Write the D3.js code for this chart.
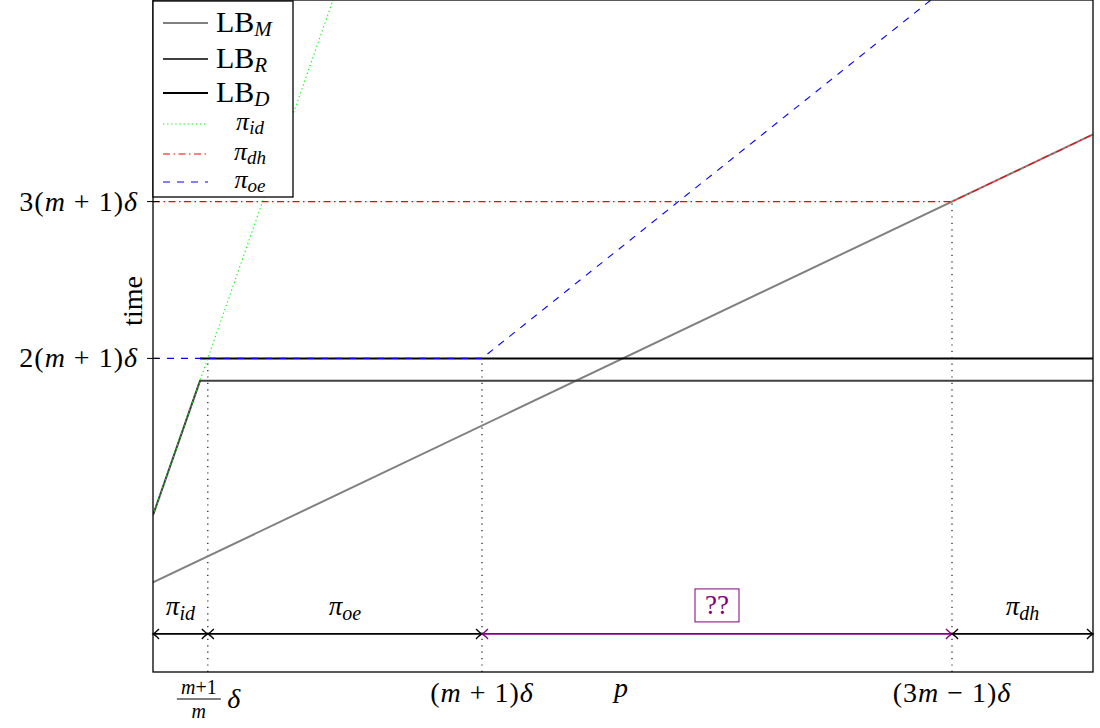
<!DOCTYPE html>
<html>
<head>
<meta charset="utf-8">
<script src="https://cdn.jsdelivr.net/npm/d3@7"></script>
<style>
  body { margin: 0; background: #fff; }
  text { font-family: "Liberation Serif", "DejaVu Serif", serif; fill: #000; }
  .it { font-style: italic; }
</style>
</head>
<body>
<script>
// Values (delta = 1, m = 6)
var lbM  = [[0, 4], [20, 24]];
var lbR  = [[0, 7], [1, 13], [20, 13]];
var lbD  = [[1, 14], [20, 14]];
var piId = [[0, 7], [3.83, 30]];
var piDh = [[0, 21], [17, 21], [20, 24]];
var piOe = [[0, 14], [7, 14], [16.55, 30]];

// Dotted guides: [p, top value]
var guides = [[7 / 6, 14], [7, 14], [17, 21]];

// Regime spans drawn just above the p axis
var spanFrom  = [0, 7 / 6, 7, 17];
var spanTo    = [7 / 6, 7, 17, 20];
var spanName  = ["id", "oe", "??", "dh"];
var spanLevel = 1.7;

var yTicks = [14, 21];
var yTickText = ["2(", "3("];

window.onload = drawChart();

function drawChart(){

    var width = 1100,
        height = 728;

    var svg = d3.select("body")
        .append("svg")
        .attr("width", width)
        .attr("height", height);

    // Plot frame
    var left = 153, right = 1093, top = 0, bottom = 672;

    var x = d3.scaleLinear().domain([0, 20]).range([left, right]);
    var y = d3.scaleLinear().domain([0, 30]).range([bottom, top]);

    svg.append("clipPath").attr("id", "plotClip")
        .append("rect")
        .attr("x", left).attr("y", top)
        .attr("width", right - left).attr("height", bottom - top);

    var line = d3.line()
        .x(function(d){ return x(d[0]); })
        .y(function(d){ return y(d[1]); });

    var plot = svg.append("g").attr("clip-path", "url(#plotClip)");

    // Dotted guides
    plot.selectAll(".guide")
        .data(guides)
        .enter()
        .append("line")
        .attr("class", "guide")
        .attr("x1", function(d){ return x(d[0]); })
        .attr("x2", function(d){ return x(d[0]); })
        .attr("y1", y(0))
        .attr("y2", function(d){ return y(d[1]); })
        .attr("stroke", "#000")
        .attr("stroke-width", 1.1)
        .attr("stroke-dasharray", "1.2,5.2");

    // Series, in the same order as the legend
    var series = [
        {data: lbM,  color: "#808080", width: 2,   dash: null},
        {data: lbR,  color: "#404040", width: 2,   dash: null},
        {data: lbD,  color: "#000000", width: 2,   dash: null},
        {data: piId, color: "#00ff00", width: 1.1, dash: "1.3,2.8"},
        {data: piDh, color: "#ff0000", width: 1.1, dash: "7,3.5,1.5,3.5"},
        {data: piOe, color: "#0000ff", width: 1.1, dash: "7,7"}
    ];

    plot.selectAll(".series")
        .data(series)
        .enter()
        .append("path")
        .attr("class", "series")
        .attr("d", function(d){ return line(d.data); })
        .attr("fill", "none")
        .attr("stroke", function(d){ return d.color; })
        .attr("stroke-width", function(d){ return d.width; })
        .attr("stroke-dasharray", function(d){ return d.dash; });

    // Arrow markers (open chevrons)
    var defs = svg.append("defs");
    ["#000000", "#800080"].forEach(function(c, i){
        defs.append("marker")
            .attr("id", "arr" + i)
            .attr("viewBox", "-10 -6 12 12")
            .attr("refX", 0).attr("refY", 0)
            .attr("markerWidth", 12).attr("markerHeight", 12)
            .attr("markerUnits", "userSpaceOnUse")
            .attr("orient", "auto-start-reverse")
            .append("path")
            .attr("d", "M-6,-5 Q-2,-1 0,0 Q-2,1 -6,5")
            .attr("fill", "none")
            .attr("stroke", c)
            .attr("stroke-width", 1.4);
    });

    var spans = svg.append("g");
    spanFrom.forEach(function(f, i){
        var isQ = spanName[i] === "??";
        var col = isQ ? "#800080" : "#000000";
        spans.append("line")
            .attr("x1", x(f)).attr("x2", x(spanTo[i]))
            .attr("y1", y(spanLevel)).attr("y2", y(spanLevel))
            .attr("stroke", col)
            .attr("stroke-width", 1.6)
            .attr("marker-start", "url(#arr" + (isQ ? 1 : 0) + ")")
            .attr("marker-end", "url(#arr" + (isQ ? 1 : 0) + ")");

        var cx = (x(f) + x(spanTo[i])) / 2;
        if (isQ) {
            spans.append("rect")
                .attr("x", cx - 22).attr("y", y(spanLevel) - 45)
                .attr("width", 44).attr("height", 33)
                .attr("fill", "#fff")
                .attr("stroke", col).attr("stroke-width", 1);
            spans.append("text")
                .attr("x", cx).attr("y", y(spanLevel) - 20)
                .attr("text-anchor", "middle")
                .attr("font-size", 27)
                .style("fill", col)
                .text("??");
        } else {
            var t = spans.append("text")
                .attr("x", cx).attr("y", y(spanLevel) - 19)
                .attr("text-anchor", "middle")
                .attr("font-size", 27);
            t.append("tspan").attr("class", "it").text("π");
            t.append("tspan").attr("class", "it")
                .attr("font-size", 20).attr("dy", 5)
                .text(spanName[i]);
        }
    });

    // Frame
    svg.append("rect")
        .attr("x", left).attr("y", top)
        .attr("width", right - left).attr("height", bottom - top)
        .attr("fill", "none")
        .attr("stroke", "#000")
        .attr("stroke-width", 1.3);

    // Y ticks
    svg.selectAll(".ytick")
        .data(yTicks)
        .enter()
        .append("line")
        .attr("x1", left - 6).attr("x2", left + 6)
        .attr("y1", function(d){ return y(d); })
        .attr("y2", function(d){ return y(d); })
        .attr("stroke", "#000").attr("stroke-width", 1);

    yTicks.forEach(function(v, i){
        var t = svg.append("text")
            .attr("x", left - 15).attr("y", y(v) + 9)
            .attr("text-anchor", "end")
            .attr("font-size", 28)
            .attr("letter-spacing", 1);
        t.append("tspan").text(yTickText[i]);
        t.append("tspan").attr("class", "it").text("m");
        t.append("tspan").text(" + 1)");
        t.append("tspan").attr("class", "it").text("δ");
    });

    // X tick labels
    var fx = x(7 / 6);
    var fr = svg.append("text").attr("x", fx - 9).attr("y", 694)
        .attr("text-anchor", "middle").attr("font-size", 20);
    fr.append("tspan").attr("class", "it").text("m");
    fr.append("tspan").text("+1");
    svg.append("line")
        .attr("x1", fx - 31).attr("x2", fx + 13)
        .attr("y1", 699).attr("y2", 699)
        .attr("stroke", "#000").attr("stroke-width", 1);
    svg.append("text").attr("class", "it")
        .attr("x", fx - 9).attr("y", 718)
        .attr("text-anchor", "middle").attr("font-size", 20)
        .text("m");
    svg.append("text").attr("class", "it")
        .attr("x", fx + 26).attr("y", 708)
        .attr("text-anchor", "middle").attr("font-size", 28)
        .text("δ");

    var t1 = svg.append("text").attr("x", x(7)).attr("y", 702)
        .attr("text-anchor", "middle").attr("font-size", 28)
        .attr("letter-spacing", 1);
    t1.append("tspan").text("(");
    t1.append("tspan").attr("class", "it").text("m");
    t1.append("tspan").text(" + 1)");
    t1.append("tspan").attr("class", "it").text("δ");

    var t2 = svg.append("text").attr("x", x(17)).attr("y", 702)
        .attr("text-anchor", "middle").attr("font-size", 28)
        .attr("letter-spacing", 1);
    t2.append("tspan").text("(3");
    t2.append("tspan").attr("class", "it").text("m");
    t2.append("tspan").text(" − 1)");
    t2.append("tspan").attr("class", "it").text("δ");

    // Axis labels
    svg.append("text").attr("class", "it")
        .attr("x", 621).attr("y", 697)
        .attr("text-anchor", "middle").attr("font-size", 28)
        .text("p");

    svg.append("text")
        .attr("transform", "translate(142,301) rotate(-90)")
        .attr("text-anchor", "middle").attr("font-size", 28)
        .text("time");

    // Legend
    var legend = svg.append("g");
    legend.append("rect")
        .attr("x", left).attr("y", 1)
        .attr("width", 140).attr("height", 196)
        .attr("fill", "#fff")
        .attr("stroke", "#000").attr("stroke-width", 1.3);

    var legendRows = [23, 59, 93, 124, 154, 182];
    var legendMain = ["LB", "LB", "LB", "π", "π", "π"];
    var legendSub  = ["M", "R", "D", "id", "dh", "oe"];

    series.forEach(function(s, i){
        var ly = legendRows[i];
        legend.append("line")
            .attr("x1", 163).attr("x2", 208)
            .attr("y1", ly).attr("y2", ly)
            .attr("stroke", s.color)
            .attr("stroke-width", s.width)
            .attr("stroke-dasharray", s.dash);
        var isPi = i >= 3;
        var t = legend.append("text")
            .attr("x", isPi ? 250 : 216)
            .attr("y", ly + (isPi ? 6 : 9))
            .attr("text-anchor", isPi ? "middle" : "start")
            .attr("font-size", isPi ? 26 : 30);
        t.append("tspan").attr("class", isPi ? "it" : null).text(legendMain[i]);
        t.append("tspan").attr("class", "it")
            .attr("font-size", isPi ? 19 : 21).attr("dy", 4)
            .text(legendSub[i]);
    });
}
</script>
</body>
</html>
